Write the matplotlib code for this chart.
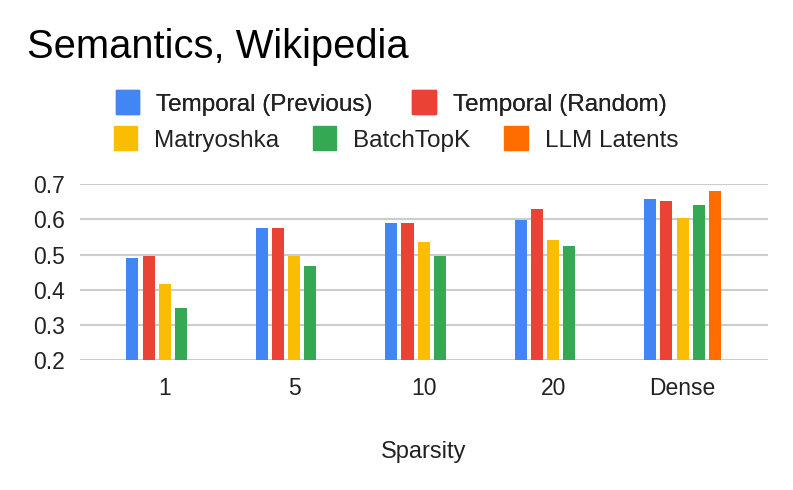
import numpy as np
import matplotlib.pyplot as plt
from matplotlib.patches import Patch

plt.rcParams['font.family'] = ['Liberation Sans', 'DejaVu Sans']

categories = ['1', '5', '10', '20', 'Dense']
series = ['Temporal (Previous)', 'Temporal (Random)', 'Matryoshka', 'BatchTopK', 'LLM Latents']
colors = ['#4285F4', '#EA4335', '#FBBC04', '#34A853', '#FF6D01']

temporal_prev = [0.490, 0.577, 0.589, 0.599, 0.658]
temporal_rand = [0.496, 0.577, 0.589, 0.629, 0.652]
matryoshka = [0.416, 0.496, 0.536, 0.542, 0.605]
batchtopk = [0.347, 0.468, 0.496, 0.525, 0.641]
llm_latents = [np.nan, np.nan, np.nan, np.nan, 0.681]

values = [temporal_prev, temporal_rand, matryoshka, batchtopk, llm_latents]

W, H = 793, 490
fig = plt.figure(figsize=(W / 100, H / 100), dpi=100)
ax = fig.add_axes([80 / W, (H - 360) / H, 688 / W, (360 - 184.3) / H])

x = np.arange(len(categories))
pitch = 0.125
width = 0.093
for j, (name, vals) in enumerate(zip(series, values)):
    ax.bar(x + (j - 2) * pitch, vals, width=width, color=colors[j], label=name, zorder=3)

ax.set_xlim(-0.655, 4.66)
ax.set_ylim(0.2, 0.7)
ax.set_yticks([0.2, 0.3, 0.4, 0.5, 0.6, 0.7])
ax.set_yticklabels(['0.2', '0.3', '0.4', '0.5', '0.6', '0.7'])
ax.set_xticks(x)
ax.set_xticklabels(categories)
ax.tick_params(axis='both', length=0, labelsize=16.5, colors='#222222')
ax.tick_params(axis='x', pad=12)
ax.tick_params(axis='y', pad=11)
ax.grid(axis='y', color='#cccccc', linewidth=1.5, zorder=0)

# no frame, gridlines only
for sp in ax.spines.values():
    sp.set_visible(False)

fig.text(27 / W, 1 - 58 / H, 'Semantics, Wikipedia', fontsize=28.75, ha='left', va='baseline')
fig.text(424 / W, 1 - 458 / H, 'Sparsity', fontsize=17, ha='center', va='baseline', color='#222222')

handles = [Patch(facecolor=c, edgecolor=c, linewidth=1, joinstyle='round') for c in colors]
leg_kw = dict(loc='center', frameon=False, fontsize=17.5, handlelength=0.95, handleheight=1.14,
              handletextpad=0.7, borderpad=0, labelcolor='#222222')
leg1 = fig.legend(handles[:2], series[:2], bbox_to_anchor=(391 / W, 1 - 103 / H),
                  ncol=2, columnspacing=1.65, **leg_kw)
fig.add_artist(leg1)
fig.legend(handles[2:], series[2:], bbox_to_anchor=(396 / W, 1 - 139 / H),
           ncol=3, columnspacing=1.4, **leg_kw)

fig.savefig('out.png', dpi=100)
